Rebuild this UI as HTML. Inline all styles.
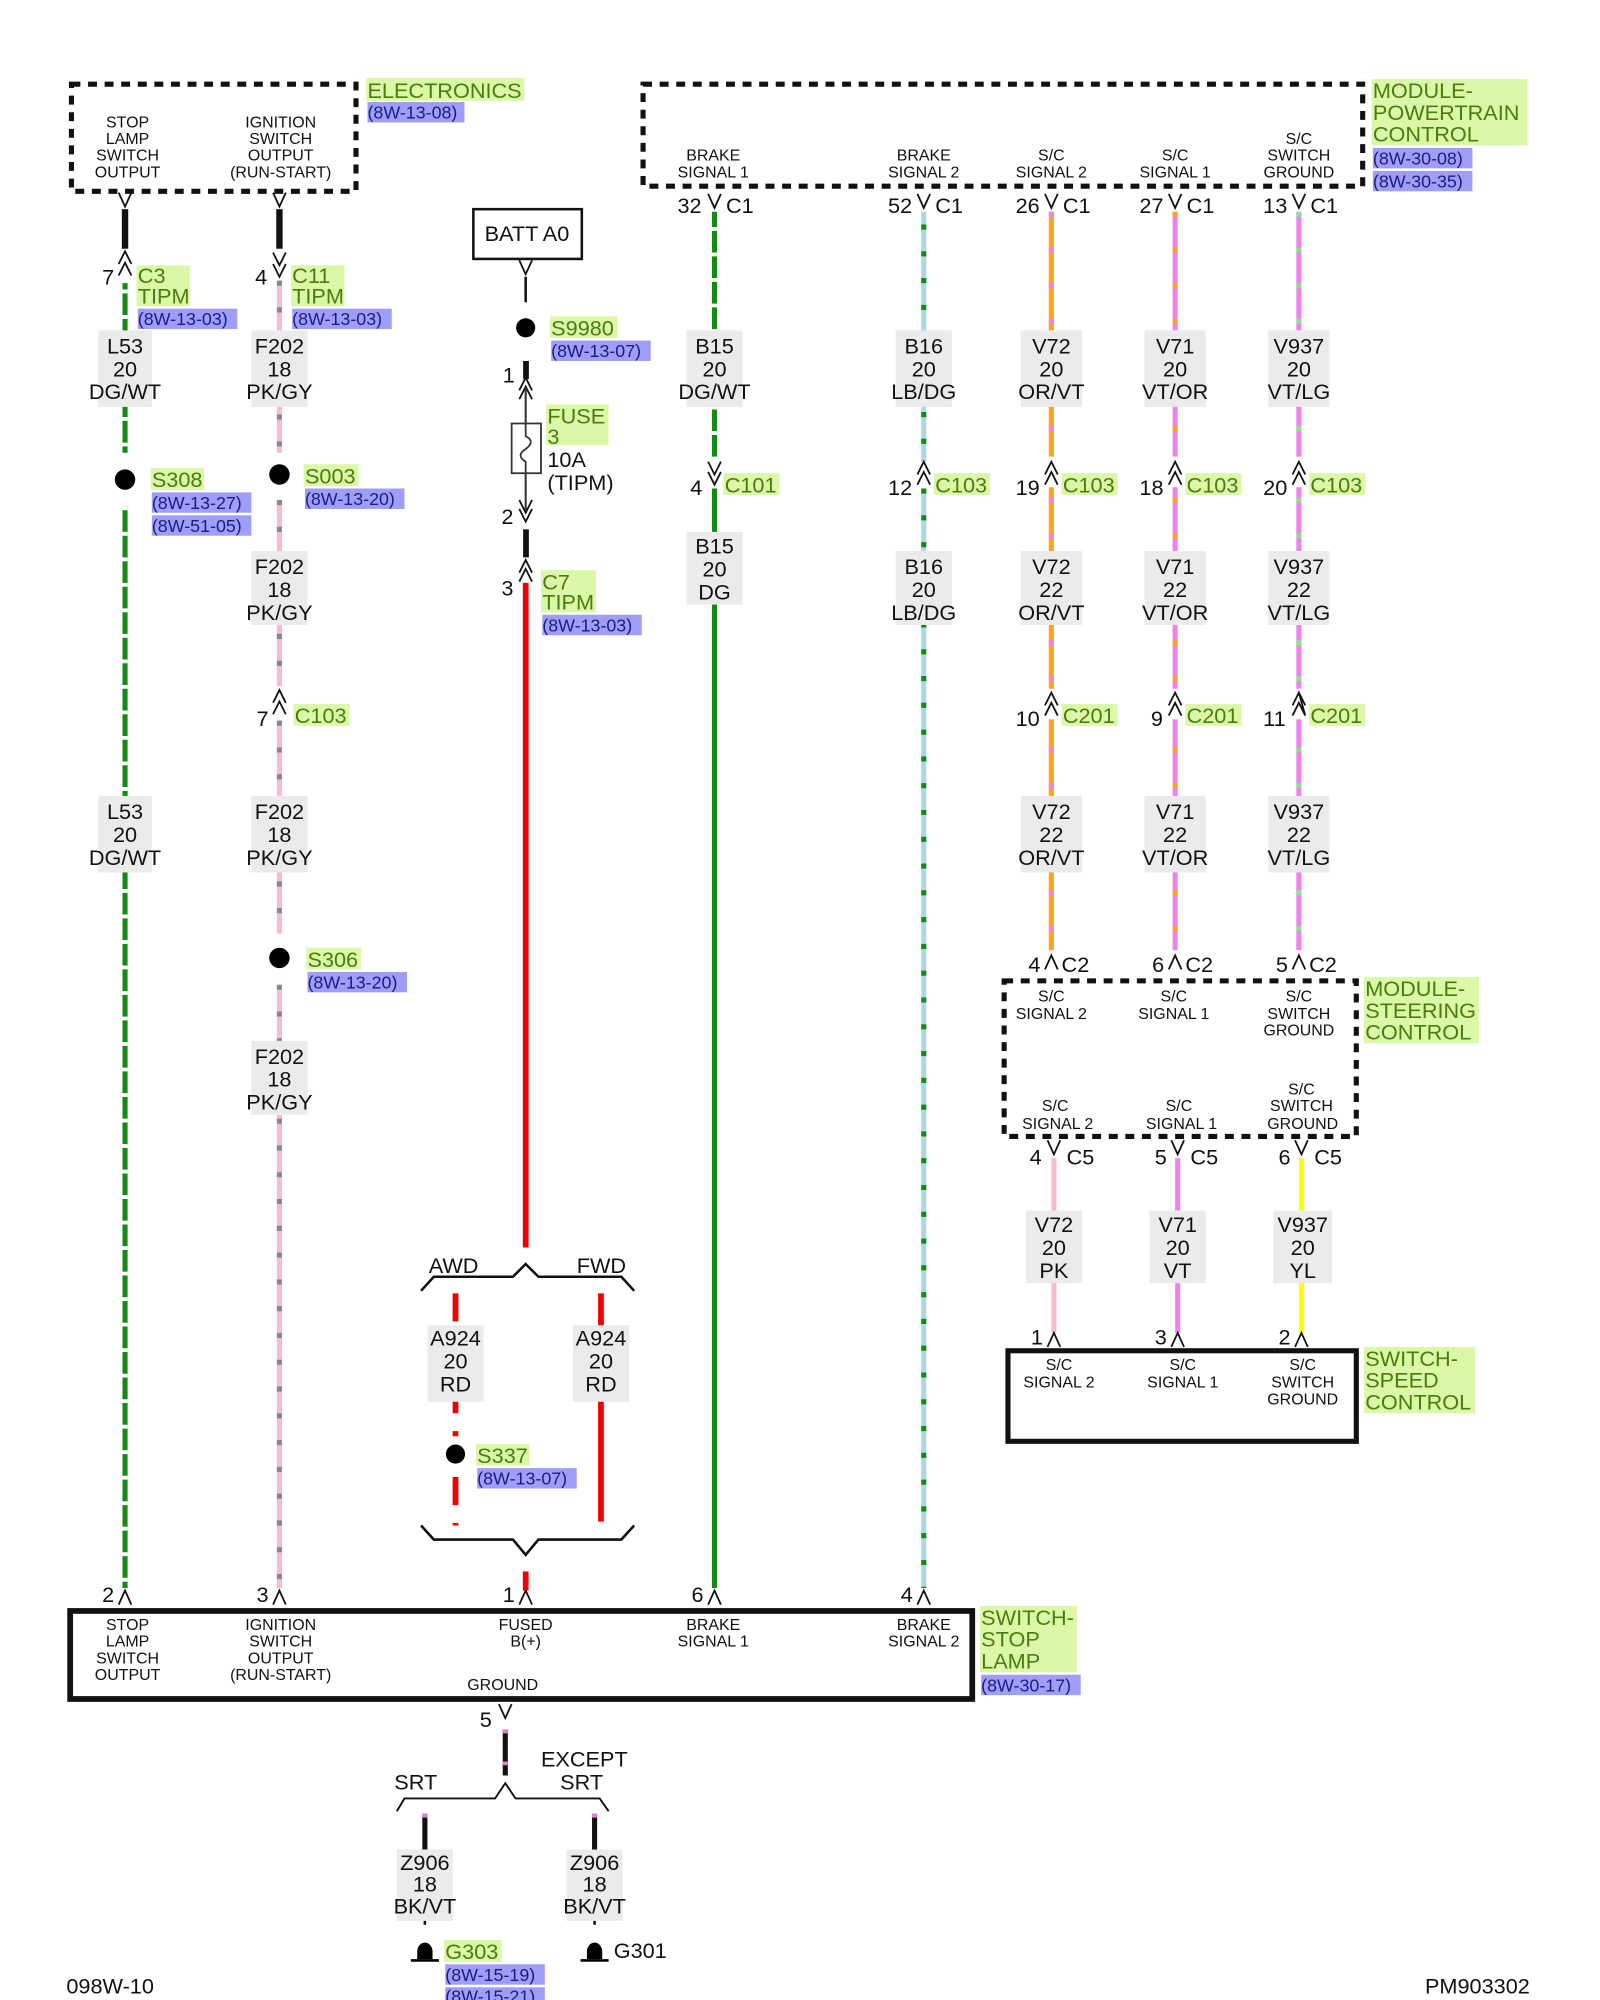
<!DOCTYPE html>
<html><head><meta charset="utf-8"><style>
html,body{margin:0;padding:0;background:#fff;}
svg{display:block;font-family:"Liberation Sans",sans-serif;}
.s{font-size:12.5px;fill:#111;text-anchor:middle}
.m{font-size:17px;fill:#111}
.c{text-anchor:middle}
.g{font-size:17px;fill:#4a7d0a}
.b{font-size:14px;fill:#1a1a8a}
.gb{fill:#dbf7a8}
.bb{fill:#9e9ef7}
.lb{fill:#ebebeb}
.k{fill:none;stroke:#111;stroke-width:1.4}
</style></head><body>
<svg width="1600" height="2000" viewBox="0 0 1254 1568" preserveAspectRatio="none" xmlns="http://www.w3.org/2000/svg">
<rect width="1254" height="1568" fill="#fff"/>

<!-- ELECTRONICS box -->
<rect x="56" y="66" width="223" height="84" fill="none" stroke="#111" stroke-width="4" stroke-dasharray="7 6"/>
<text class="s"><tspan x="100" y="100">STOP</tspan><tspan x="100" y="113">LAMP</tspan><tspan x="100" y="126">SWITCH</tspan><tspan x="100" y="139">OUTPUT</tspan></text>
<text class="s"><tspan x="220" y="100">IGNITION</tspan><tspan x="220" y="113">SWITCH</tspan><tspan x="220" y="126">OUTPUT</tspan><tspan x="220" y="139">(RUN-START)</tspan></text>
<rect class="gb" x="287" y="61" width="124" height="18"/><text class="g" x="288" y="77">ELECTRONICS</text>
<rect class="bb" x="288" y="80" width="76" height="16"/><text class="b" x="288" y="93">(8W-13-08)</text>

<!-- PCM box -->
<rect x="504" y="66" width="564" height="80" fill="none" stroke="#111" stroke-width="4" stroke-dasharray="7 6"/>
<text class="s"><tspan x="559" y="126">BRAKE</tspan><tspan x="559" y="139">SIGNAL 1</tspan></text>
<text class="s"><tspan x="724" y="126">BRAKE</tspan><tspan x="724" y="139">SIGNAL 2</tspan></text>
<text class="s"><tspan x="824" y="126">S/C</tspan><tspan x="824" y="139">SIGNAL 2</tspan></text>
<text class="s"><tspan x="921" y="126">S/C</tspan><tspan x="921" y="139">SIGNAL 1</tspan></text>
<text class="s"><tspan x="1018" y="113">S/C</tspan><tspan x="1018" y="126">SWITCH</tspan><tspan x="1018" y="139">GROUND</tspan></text>
<rect class="gb" x="1075" y="62" width="122" height="52"/>
<text class="g"><tspan x="1076" y="77">MODULE-</tspan><tspan x="1076" y="94">POWERTRAIN</tspan><tspan x="1076" y="111">CONTROL</tspan></text>
<rect class="bb" x="1076" y="116" width="78" height="16"/><text class="b" x="1076" y="129">(8W-30-08)</text>
<rect class="bb" x="1076" y="134" width="78" height="16"/><text class="b" x="1076" y="147">(8W-30-35)</text>

<!-- ===== Column 1 (L53) ===== -->
<path class="k" d="M93 151 L98 162 L103 151"/>
<rect x="95.5" y="164" width="5" height="31" fill="#111"/>
<path class="k" d="M93 207 L98 197 L103 207 M93 216 L98 206 L103 216"/>
<text class="m" x="80" y="223">7</text>
<rect class="gb" x="107" y="208" width="42" height="32"/><text class="g"><tspan x="108" y="222">C3</tspan><tspan x="108" y="238">TIPM</tspan></text>
<rect class="bb" x="108" y="242" width="78" height="16"/><text class="b" x="108" y="255">(8W-13-03)</text>
<line x1="98" y1="222" x2="98" y2="355" stroke="#138a13" stroke-width="4"/>
<line x1="98" y1="222" x2="98" y2="355" stroke="#fff" stroke-width="4" stroke-dasharray="3 17" stroke-dashoffset="-5"/>
<rect class="lb" x="77" y="259" width="42" height="60"/>
<text class="m c"><tspan x="98" y="277">L53</tspan><tspan x="98" y="295">20</tspan><tspan x="98" y="313">DG/WT</tspan></text>
<circle cx="98" cy="376" r="8" fill="#000"/>
<rect class="gb" x="118" y="367" width="42" height="17"/><text class="g" x="119" y="382">S308</text>
<rect class="bb" x="119" y="386" width="78" height="16"/><text class="b" x="119" y="399">(8W-13-27)</text>
<rect class="bb" x="119" y="404" width="78" height="16"/><text class="b" x="119" y="417">(8W-51-05)</text>
<line x1="98" y1="397" x2="98" y2="1245" stroke="#138a13" stroke-width="4"/>
<line x1="98" y1="397" x2="98" y2="1245" stroke="#fff" stroke-width="4" stroke-dasharray="3 17"/>
<rect class="lb" x="77" y="624" width="42" height="60"/>
<text class="m c"><tspan x="98" y="642">L53</tspan><tspan x="98" y="660">20</tspan><tspan x="98" y="678">DG/WT</tspan></text>
<path class="k" d="M93 1258 L98 1247 L103 1258"/>
<text class="m" x="80" y="1256">2</text>

<!-- ===== Column 2 (F202) ===== -->
<path class="k" d="M214 151 L219 162 L224 151"/>
<rect x="216.5" y="164" width="5" height="31" fill="#111"/>
<path class="k" d="M214 198 L219 208 L224 198 M214 207 L219 217 L224 207"/>
<text class="m" x="200" y="223">4</text>
<rect class="gb" x="228" y="208" width="42" height="32"/><text class="g"><tspan x="229" y="222">C11</tspan><tspan x="229" y="238">TIPM</tspan></text>
<rect class="bb" x="229" y="242" width="78" height="16"/><text class="b" x="229" y="255">(8W-13-03)</text>
<line x1="219" y1="220" x2="219" y2="355" stroke="#f9bcc8" stroke-width="4"/>
<line x1="219" y1="220" x2="219" y2="355" stroke="#888" stroke-width="4" stroke-dasharray="4 17"/>
<rect class="lb" x="197" y="259" width="44" height="60"/>
<text class="m c"><tspan x="219" y="277">F202</tspan><tspan x="219" y="295">18</tspan><tspan x="219" y="313">PK/GY</tspan></text>
<circle cx="219" cy="372" r="8" fill="#000"/>
<rect class="gb" x="238" y="364" width="43" height="17"/><text class="g" x="239" y="379">S003</text>
<rect class="bb" x="239" y="383" width="78" height="16"/><text class="b" x="239" y="396">(8W-13-20)</text>
<line x1="219" y1="392" x2="219" y2="538" stroke="#f9bcc8" stroke-width="4"/>
<line x1="219" y1="392" x2="219" y2="538" stroke="#888" stroke-width="4" stroke-dasharray="4 17"/>
<rect class="lb" x="197" y="432" width="44" height="58"/>
<text class="m c"><tspan x="219" y="450">F202</tspan><tspan x="219" y="468">18</tspan><tspan x="219" y="486">PK/GY</tspan></text>
<path class="k" d="M214 551 L219 541 L224 551 M214 560 L219 550 L224 560"/>
<text class="m" x="201" y="569">7</text>
<rect class="gb" x="230" y="552" width="44" height="17"/><text class="g" x="231" y="567">C103</text>
<line x1="219" y1="565" x2="219" y2="732" stroke="#f9bcc8" stroke-width="4"/>
<line x1="219" y1="565" x2="219" y2="732" stroke="#888" stroke-width="4" stroke-dasharray="4 17"/>
<rect class="lb" x="197" y="624" width="44" height="60"/>
<text class="m c"><tspan x="219" y="642">F202</tspan><tspan x="219" y="660">18</tspan><tspan x="219" y="678">PK/GY</tspan></text>
<circle cx="219" cy="751" r="8" fill="#000"/>
<rect class="gb" x="240" y="743" width="43" height="17"/><text class="g" x="241" y="758">S306</text>
<rect class="bb" x="241" y="762" width="78" height="16"/><text class="b" x="241" y="775">(8W-13-20)</text>
<line x1="219" y1="772" x2="219" y2="1245" stroke="#f9bcc8" stroke-width="4"/>
<line x1="219" y1="772" x2="219" y2="1245" stroke="#888" stroke-width="4" stroke-dasharray="4 17"/>
<rect class="lb" x="197" y="816" width="44" height="58"/>
<text class="m c"><tspan x="219" y="834">F202</tspan><tspan x="219" y="852">18</tspan><tspan x="219" y="870">PK/GY</tspan></text>
<path class="k" d="M214 1258 L219 1247 L224 1258"/>
<text class="m" x="201" y="1256">3</text>

<!-- ===== Column 3 (BATT / fuse / red) ===== -->
<rect x="371" y="164" width="85" height="39" fill="#fff" stroke="#111" stroke-width="2"/>
<text class="m c" x="413" y="189">BATT A0</text>
<path class="k" d="M407 204 L412 215 L417 204"/>
<line x1="412" y1="217" x2="412" y2="237" stroke="#111" stroke-width="2"/>
<circle cx="412" cy="257" r="7.5" fill="#000"/>
<rect class="gb" x="431" y="248" width="53" height="17"/><text class="g" x="432" y="263">S9980</text>
<rect class="bb" x="432" y="267" width="78" height="16"/><text class="b" x="432" y="280">(8W-13-07)</text>
<rect x="410" y="283" width="4.5" height="14" fill="#111"/>
<path class="k" d="M407 306 L412 296 L417 306 M407 313 L412 303 L417 313"/>
<text class="m" x="394" y="300">1</text>
<line x1="412" y1="304" x2="412" y2="400" stroke="#333" stroke-width="1.6"/>
<rect x="401" y="332" width="23" height="39" fill="#fff" stroke="#333" stroke-width="1.4"/>
<path d="M412 332 L412 342 Q420 346 412 352 Q404 357 412 362 L412 371" fill="none" stroke="#333" stroke-width="1.4"/>
<rect class="gb" x="428" y="317" width="49" height="32"/><text class="g"><tspan x="429" y="332">FUSE</tspan><tspan x="429" y="348">3</tspan></text>
<text class="m"><tspan x="429" y="366">10A</tspan><tspan x="429" y="384">(TIPM)</tspan></text>
<path class="k" d="M407 392 L412 402 L417 392 M407 399 L412 409 L417 399"/>
<text class="m" x="393" y="411">2</text>
<rect x="410" y="415" width="4.5" height="22" fill="#111"/>
<path class="k" d="M407 449 L412 439 L417 449 M407 456 L412 446 L417 456"/>
<text class="m" x="393" y="467">3</text>
<rect class="gb" x="424" y="447" width="43" height="33"/><text class="g"><tspan x="425" y="462">C7</tspan><tspan x="425" y="478">TIPM</tspan></text>
<rect class="bb" x="425" y="482" width="78" height="16"/><text class="b" x="425" y="495">(8W-13-03)</text>
<line x1="412" y1="457" x2="412" y2="978" stroke="#f20000" stroke-width="4.5"/>
<!-- AWD/FWD bracket -->
<path d="M330 1012 L340 1001 L402 1001 L412 991 L422 1001 L487 1001 L497 1012" fill="none" stroke="#111" stroke-width="2"/>
<text class="m" x="336" y="998">AWD</text>
<text class="m" x="452" y="998">FWD</text>
<line x1="357" y1="1014" x2="357" y2="1196" stroke="#f20000" stroke-width="4.5" stroke-dasharray="22 14"/>
<rect class="lb" x="335" y="1039" width="44" height="60"/>
<text class="m c"><tspan x="357" y="1055">A924</tspan><tspan x="357" y="1073">20</tspan><tspan x="357" y="1091">RD</tspan></text>
<rect x="349" y="1126" width="16" height="28" fill="#fff"/>
<circle cx="357" cy="1140" r="7.5" fill="#000"/>
<rect class="gb" x="373" y="1132" width="42" height="17"/><text class="g" x="374" y="1147">S337</text>
<rect class="bb" x="374" y="1151" width="78" height="16"/><text class="b" x="374" y="1164">(8W-13-07)</text>
<line x1="471" y1="1014" x2="471" y2="1193" stroke="#f20000" stroke-width="4.5"/>
<rect class="lb" x="449" y="1039" width="44" height="60"/>
<text class="m c"><tspan x="471" y="1055">A924</tspan><tspan x="471" y="1073">20</tspan><tspan x="471" y="1091">RD</tspan></text>
<path d="M330 1196 L340 1207 L402 1207 L412 1219 L422 1207 L487 1207 L497 1196" fill="none" stroke="#111" stroke-width="2"/>
<line x1="412" y1="1232" x2="412" y2="1247" stroke="#f20000" stroke-width="4.5"/>
<path class="k" d="M407 1258 L412 1247 L417 1258"/>
<text class="m" x="394" y="1256">1</text>

<!-- ===== B15 column ===== -->
<text class="m" x="531" y="167">32</text>
<path class="k" d="M555 152 L560 163 L565 152"/>
<text class="m" x="569" y="167">C1</text>
<line x1="560" y1="166" x2="560" y2="360" stroke="#138a13" stroke-width="4"/>
<line x1="560" y1="166" x2="560" y2="360" stroke="#fff" stroke-width="4" stroke-dasharray="3 17" stroke-dashoffset="-12"/>
<rect class="lb" x="538" y="259" width="44" height="60"/>
<text class="m c"><tspan x="560" y="277">B15</tspan><tspan x="560" y="295">20</tspan><tspan x="560" y="313">DG/WT</tspan></text>
<path class="k" d="M555 362 L560 372 L565 362 M555 370 L560 380 L565 370"/>
<text class="m" x="541" y="388">4</text>
<rect class="gb" x="567" y="371" width="44" height="17"/><text class="g" x="568" y="386">C101</text>
<line x1="560" y1="383" x2="560" y2="1245" stroke="#138a13" stroke-width="4"/>
<rect class="lb" x="538" y="417" width="44" height="57"/>
<text class="m c"><tspan x="560" y="434">B15</tspan><tspan x="560" y="452">20</tspan><tspan x="560" y="470">DG</tspan></text>
<path class="k" d="M555 1258 L560 1247 L565 1258"/>
<text class="m" x="542" y="1256">6</text>

<!-- ===== B16 column ===== -->
<text class="m" x="696" y="167">52</text>
<path class="k" d="M719 152 L724 163 L729 152"/>
<text class="m" x="733" y="167">C1</text>
<line x1="724" y1="166" x2="724" y2="362" stroke="#acd8e3" stroke-width="4"/>
<line x1="724" y1="166" x2="724" y2="362" stroke="#138a13" stroke-width="4" stroke-dasharray="4 17" stroke-dashoffset="-10"/>
<rect class="lb" x="702" y="259" width="44" height="60"/>
<text class="m c"><tspan x="724" y="277">B16</tspan><tspan x="724" y="295">20</tspan><tspan x="724" y="313">LB/DG</tspan></text>
<path class="k" d="M719 372 L724 362 L729 372 M719 380 L724 370 L729 380"/>
<text class="m" x="696" y="388">12</text>
<rect class="gb" x="732" y="371" width="44" height="17"/><text class="g" x="733" y="386">C103</text>
<line x1="724" y1="383" x2="724" y2="1245" stroke="#acd8e3" stroke-width="4"/>
<line x1="724" y1="383" x2="724" y2="1245" stroke="#138a13" stroke-width="4" stroke-dasharray="4 17"/>
<rect class="lb" x="702" y="432" width="44" height="58"/>
<text class="m c"><tspan x="724" y="450">B16</tspan><tspan x="724" y="468">20</tspan><tspan x="724" y="486">LB/DG</tspan></text>
<path class="k" d="M719 1258 L724 1247 L729 1258"/>
<text class="m" x="706" y="1256">4</text>

<!-- ===== V72 column ===== -->
<text class="m" x="796" y="167">26</text>
<path class="k" d="M819 152 L824 163 L829 152"/>
<text class="m" x="833" y="167">C1</text>
<line x1="824" y1="166" x2="824" y2="745" stroke="#ffa31a" stroke-width="4"/>
<line x1="824" y1="166" x2="824" y2="745" stroke="#ee82ee" stroke-width="4" stroke-dasharray="4 24"/>
<rect class="lb" x="800" y="259" width="48" height="60"/>
<text class="m c"><tspan x="824" y="277">V72</tspan><tspan x="824" y="295">20</tspan><tspan x="824" y="313">OR/VT</tspan></text>
<rect class="lb" x="800" y="432" width="48" height="58"/>
<text class="m c"><tspan x="824" y="450">V72</tspan><tspan x="824" y="468">22</tspan><tspan x="824" y="486">OR/VT</tspan></text>
<rect class="lb" x="800" y="624" width="48" height="60"/>
<text class="m c"><tspan x="824" y="642">V72</tspan><tspan x="824" y="660">22</tspan><tspan x="824" y="678">OR/VT</tspan></text>
<!-- ===== V71 column ===== -->
<text class="m" x="893" y="167">27</text>
<path class="k" d="M916 152 L921 163 L926 152"/>
<text class="m" x="930" y="167">C1</text>
<line x1="921" y1="166" x2="921" y2="745" stroke="#ee82ee" stroke-width="4"/>
<line x1="921" y1="166" x2="921" y2="745" stroke="#ffa31a" stroke-width="4" stroke-dasharray="4 24"/>
<rect class="lb" x="897" y="259" width="48" height="60"/>
<text class="m c"><tspan x="921" y="277">V71</tspan><tspan x="921" y="295">20</tspan><tspan x="921" y="313">VT/OR</tspan></text>
<rect class="lb" x="897" y="432" width="48" height="58"/>
<text class="m c"><tspan x="921" y="450">V71</tspan><tspan x="921" y="468">22</tspan><tspan x="921" y="486">VT/OR</tspan></text>
<rect class="lb" x="897" y="624" width="48" height="60"/>
<text class="m c"><tspan x="921" y="642">V71</tspan><tspan x="921" y="660">22</tspan><tspan x="921" y="678">VT/OR</tspan></text>
<!-- ===== V937 column ===== -->
<text class="m" x="990" y="167">13</text>
<path class="k" d="M1013 152 L1018 163 L1023 152"/>
<text class="m" x="1027" y="167">C1</text>
<line x1="1018" y1="166" x2="1018" y2="745" stroke="#ee82ee" stroke-width="4"/>
<line x1="1018" y1="166" x2="1018" y2="745" stroke="#8fe08f" stroke-width="4" stroke-dasharray="4 24"/>
<rect class="lb" x="994" y="259" width="48" height="60"/>
<text class="m c"><tspan x="1018" y="277">V937</tspan><tspan x="1018" y="295">20</tspan><tspan x="1018" y="313">VT/LG</tspan></text>
<rect class="lb" x="994" y="432" width="48" height="58"/>
<text class="m c"><tspan x="1018" y="450">V937</tspan><tspan x="1018" y="468">22</tspan><tspan x="1018" y="486">VT/LG</tspan></text>
<rect class="lb" x="994" y="624" width="48" height="60"/>
<text class="m c"><tspan x="1018" y="642">V937</tspan><tspan x="1018" y="660">22</tspan><tspan x="1018" y="678">VT/LG</tspan></text>

<!-- C103 / C201 / C2 connectors for V columns -->
<g fill="#fff"><rect x="815" y="358" width="18" height="24"/><rect x="912" y="358" width="18" height="24"/><rect x="1009" y="358" width="18" height="24"/>
<rect x="815" y="540" width="18" height="24"/><rect x="912" y="540" width="18" height="24"/><rect x="1009" y="540" width="18" height="24"/></g>
<path class="k" d="M819 372 L824 362 L829 372 M819 380 L824 370 L829 380 M916 372 L921 362 L926 372 M916 380 L921 370 L926 380 M1013 372 L1018 362 L1023 372 M1013 380 L1018 370 L1023 380"/>
<path class="k" d="M819 553 L824 543 L829 553 M819 561 L824 551 L829 561 M916 553 L921 543 L926 553 M916 561 L921 551 L926 561 M1013 553 L1018 543 L1023 561 M1013 553 L1018 543 L1023 553 M1013 561 L1018 551 L1023 561"/>
<text class="m" x="796" y="388">19</text><rect class="gb" x="832" y="371" width="44" height="17"/><text class="g" x="833" y="386">C103</text>
<text class="m" x="893" y="388">18</text><rect class="gb" x="929" y="371" width="44" height="17"/><text class="g" x="930" y="386">C103</text>
<text class="m" x="990" y="388">20</text><rect class="gb" x="1026" y="371" width="44" height="17"/><text class="g" x="1027" y="386">C103</text>
<text class="m" x="796" y="569">10</text><rect class="gb" x="832" y="552" width="44" height="17"/><text class="g" x="833" y="567">C201</text>
<text class="m" x="902" y="569">9</text><rect class="gb" x="929" y="552" width="44" height="17"/><text class="g" x="930" y="567">C201</text>
<text class="m" x="990" y="569">11</text><rect class="gb" x="1026" y="552" width="44" height="17"/><text class="g" x="1027" y="567">C201</text>
<path class="k" d="M819 760 L824 749 L829 760 M916 760 L921 749 L926 760 M1013 760 L1018 749 L1023 760"/>
<text class="m" x="806" y="762">4</text><text class="m" x="832" y="762">C2</text>
<text class="m" x="903" y="762">6</text><text class="m" x="929" y="762">C2</text>
<text class="m" x="1000" y="762">5</text><text class="m" x="1026" y="762">C2</text>

<!-- Steering control module -->
<rect x="787" y="769" width="276" height="122" fill="none" stroke="#111" stroke-width="4" stroke-dasharray="7 6"/>
<text class="s"><tspan x="824" y="785">S/C</tspan><tspan x="824" y="799">SIGNAL 2</tspan></text>
<text class="s"><tspan x="920" y="785">S/C</tspan><tspan x="920" y="799">SIGNAL 1</tspan></text>
<text class="s"><tspan x="1018" y="785">S/C</tspan><tspan x="1018" y="799">SWITCH</tspan><tspan x="1018" y="812">GROUND</tspan></text>
<text class="s"><tspan x="827" y="871">S/C</tspan><tspan x="829" y="885">SIGNAL 2</tspan></text>
<text class="s"><tspan x="924" y="871">S/C</tspan><tspan x="926" y="885">SIGNAL 1</tspan></text>
<text class="s"><tspan x="1020" y="858">S/C</tspan><tspan x="1020" y="871">SWITCH</tspan><tspan x="1021" y="885">GROUND</tspan></text>
<rect class="gb" x="1069" y="766" width="90" height="52"/>
<text class="g"><tspan x="1070" y="781">MODULE-</tspan><tspan x="1070" y="798">STEERING</tspan><tspan x="1070" y="815">CONTROL</tspan></text>
<path class="k" d="M821 894 L826 905 L831 894 M918 894 L923 905 L928 894 M1015 894 L1020 905 L1025 894"/>
<text class="m" x="807" y="913">4</text><text class="m" x="836" y="913">C5</text>
<text class="m" x="905" y="913">5</text><text class="m" x="933" y="913">C5</text>
<text class="m" x="1002" y="913">6</text><text class="m" x="1030" y="913">C5</text>
<line x1="826" y1="908" x2="826" y2="1045" stroke="#f9bcc8" stroke-width="4"/>
<line x1="923" y1="908" x2="923" y2="1045" stroke="#ee82ee" stroke-width="4"/>
<line x1="1020" y1="908" x2="1020" y2="1045" stroke="#ffff00" stroke-width="4"/>
<rect class="lb" x="804" y="949" width="44" height="57"/>
<text class="m c"><tspan x="826" y="966">V72</tspan><tspan x="826" y="984">20</tspan><tspan x="826" y="1002">PK</tspan></text>
<rect class="lb" x="901" y="949" width="44" height="57"/>
<text class="m c"><tspan x="923" y="966">V71</tspan><tspan x="923" y="984">20</tspan><tspan x="923" y="1002">VT</tspan></text>
<rect class="lb" x="998" y="949" width="46" height="57"/>
<text class="m c"><tspan x="1021" y="966">V937</tspan><tspan x="1021" y="984">20</tspan><tspan x="1021" y="1002">YL</tspan></text>
<path class="k" d="M821 1056 L826 1045 L831 1056 M918 1056 L923 1045 L928 1056 M1015 1056 L1020 1045 L1025 1056"/>
<text class="m" x="808" y="1054">1</text><text class="m" x="905" y="1054">3</text><text class="m" x="1002" y="1054">2</text>
<rect x="790" y="1059" width="273" height="71" fill="none" stroke="#111" stroke-width="4"/>
<text class="s"><tspan x="830" y="1074">S/C</tspan><tspan x="830" y="1088">SIGNAL 2</tspan></text>
<text class="s"><tspan x="927" y="1074">S/C</tspan><tspan x="927" y="1088">SIGNAL 1</tspan></text>
<text class="s"><tspan x="1021" y="1074">S/C</tspan><tspan x="1021" y="1088">SWITCH</tspan><tspan x="1021" y="1101">GROUND</tspan></text>
<rect class="gb" x="1069" y="1056" width="87" height="52"/>
<text class="g"><tspan x="1070" y="1071">SWITCH-</tspan><tspan x="1070" y="1088">SPEED</tspan><tspan x="1070" y="1105">CONTROL</tspan></text>

<!-- Switch stop lamp -->
<rect x="55" y="1263" width="707" height="69" fill="none" stroke="#111" stroke-width="4.5"/>
<text class="s"><tspan x="100" y="1278">STOP</tspan><tspan x="100" y="1291">LAMP</tspan><tspan x="100" y="1304">SWITCH</tspan><tspan x="100" y="1317">OUTPUT</tspan></text>
<text class="s"><tspan x="220" y="1278">IGNITION</tspan><tspan x="220" y="1291">SWITCH</tspan><tspan x="220" y="1304">OUTPUT</tspan><tspan x="220" y="1317">(RUN-START)</tspan></text>
<text class="s"><tspan x="412" y="1278">FUSED</tspan><tspan x="412" y="1291">B(+)</tspan></text>
<text class="s"><tspan x="559" y="1278">BRAKE</tspan><tspan x="559" y="1291">SIGNAL 1</tspan></text>
<text class="s"><tspan x="724" y="1278">BRAKE</tspan><tspan x="724" y="1291">SIGNAL 2</tspan></text>
<text class="s" x="394" y="1325">GROUND</text>
<rect class="gb" x="768" y="1259" width="76" height="52"/>
<text class="g"><tspan x="769" y="1274">SWITCH-</tspan><tspan x="769" y="1291">STOP</tspan><tspan x="769" y="1308">LAMP</tspan></text>
<rect class="bb" x="769" y="1313" width="78" height="16"/><text class="b" x="769" y="1326">(8W-30-17)</text>

<!-- Ground -->
<path class="k" d="M391 1336 L396 1347 L401 1336"/>
<text class="m" x="376" y="1354">5</text>
<line x1="396" y1="1356" x2="396" y2="1392" stroke="#111" stroke-width="4"/>
<line x1="396" y1="1356" x2="396" y2="1392" stroke="#e07ee0" stroke-width="4" stroke-dasharray="3 22"/>
<path d="M311 1420 L317 1410 L388 1410 L396 1398 L404 1410 L470 1410 L477 1420" fill="none" stroke="#111" stroke-width="1.5"/>
<text class="m" x="309" y="1403">SRT</text>
<text class="m"><tspan x="424" y="1385">EXCEPT</tspan><tspan x="439" y="1403">SRT</tspan></text>
<line x1="333" y1="1422" x2="333" y2="1450" stroke="#111" stroke-width="4"/>
<line x1="333" y1="1422" x2="333" y2="1450" stroke="#e07ee0" stroke-width="4" stroke-dasharray="3 26"/>
<line x1="466" y1="1422" x2="466" y2="1450" stroke="#111" stroke-width="4"/>
<line x1="466" y1="1422" x2="466" y2="1450" stroke="#e07ee0" stroke-width="4" stroke-dasharray="3 26"/>
<rect class="lb" x="311" y="1450" width="44" height="56"/>
<text class="m c"><tspan x="333" y="1466">Z906</tspan><tspan x="333" y="1483">18</tspan><tspan x="333" y="1500">BK/VT</tspan></text>
<rect class="lb" x="444" y="1450" width="44" height="56"/>
<text class="m c"><tspan x="466" y="1466">Z906</tspan><tspan x="466" y="1483">18</tspan><tspan x="466" y="1500">BK/VT</tspan></text>
<rect x="332" y="1506" width="2" height="3" fill="#111"/><rect x="465" y="1506" width="2" height="3" fill="#111"/>
<path d="M327 1536 L327 1530 A6 7 0 0 1 339 1530 L339 1536 Z" fill="#000"/><line x1="322" y1="1537" x2="344" y2="1537" stroke="#000" stroke-width="2"/>
<path d="M460 1536 L460 1530 A6 7 0 0 1 472 1530 L472 1536 Z" fill="#000"/><line x1="455" y1="1537" x2="477" y2="1537" stroke="#000" stroke-width="2"/>
<rect class="gb" x="348" y="1521" width="45" height="17"/><text class="g" x="349" y="1536">G303</text>
<rect class="bb" x="349" y="1540" width="78" height="16"/><text class="b" x="349" y="1553">(8W-15-19)</text>
<rect class="bb" x="349" y="1558" width="78" height="12"/><text class="b" x="349" y="1570">(8W-15-21)</text>
<text class="m" x="481" y="1535">G301</text>
<text class="m" x="52" y="1563">098W-10</text>
<text class="m" x="1199" y="1563" text-anchor="end">PM903302</text>
</svg>
</body></html>
